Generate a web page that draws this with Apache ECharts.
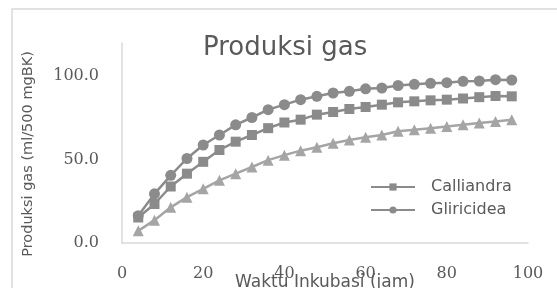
<!DOCTYPE html>
<html>
<head>
<meta charset="utf-8">
<script src="https://cdn.jsdelivr.net/npm/echarts@6/dist/echarts.min.js"></script>
<style>
html,body{margin:0;padding:0;background:#fff;}
#chart_container{width:557px;height:288px;}
</style>
</head>
<body>
<div id="chart_container"></div>
<script>
// waktu inkubasi (jam)
var hours = [4, 8, 12, 16, 20, 24, 28, 32, 36, 40, 44, 48, 52, 56, 60, 64, 68, 72, 76, 80, 84, 88, 92, 96];
// produksi gas (ml/500 mgBK)
var calliandra = [15.3, 23.4, 33.9, 41.6, 48.7, 55.8, 60.8, 64.8, 68.9, 72.3, 74.0, 77.0, 78.6, 80.4, 81.6, 83.0, 84.4, 85.0, 85.6, 86.0, 86.7, 87.5, 88.2, 88.0];
var gliricidea = [16.4, 29.5, 40.6, 50.7, 58.8, 64.8, 70.9, 75.3, 80.0, 83.0, 86.0, 88.0, 90.0, 91.0, 92.5, 93.0, 94.5, 95.2, 95.8, 96.2, 97.0, 97.2, 98.0, 97.8];
var series3 = [7.3, 13.7, 21.4, 27.5, 32.5, 37.6, 41.6, 45.6, 49.7, 52.7, 55.4, 57.4, 59.8, 61.8, 63.4, 64.8, 67.0, 67.9, 68.9, 69.9, 70.9, 72.0, 72.9, 73.9];
var xTicks = [0, 20, 40, 60, 80, 100];
var yTicks = [0, 50, 100];

function pairs(ys){
    var out = [];
    for (var i in hours) {
        out.push([hours[i], ys[i]]);
    }
    return out;
}

var chart = echarts.init(document.getElementById('chart_container'));

var option = {
    animation: false,
    backgroundColor: '#fff',
    graphic: [{
        type: 'rect',
        shape: {x: 12, y: 9, width: 600, height: 300},
        style: {fill: 'none', stroke: '#d9d9d9', lineWidth: 1.5},
        silent: true
    }],
    title: {
        text: 'Produksi gas',
        left: 198,
        top: 30,
        textStyle: {
            fontFamily: 'DejaVu Sans',
            fontSize: 26,
            fontWeight: 'normal',
            color: '#595959'
        }
    },
    legend: {
        orient: 'vertical',
        left: 365,
        top: 174,
        itemWidth: 44,
        itemHeight: 9,
        itemGap: 7,
        textStyle: {
            fontFamily: 'DejaVu Sans',
            fontSize: 16,
            color: '#595959',
            padding: [0, 0, 0, 11]
        },
        data: ['Calliandra', 'Gliricidea']
    },
    grid: {
        left: 122,
        right: 29,
        top: 43,
        bottom: 45,
        containLabel: false,
        outerBoundsMode: 'none'
    },
    xAxis: {
        type: 'value',
        min: 0,
        max: 100,
        interval: 20,
        name: 'Waktu Inkubasi (jam)',
        nameLocation: 'middle',
        nameGap: 31,
        nameMoveOverlap: false,
        nameTextStyle: {
            fontFamily: 'DejaVu Sans',
            fontSize: 17,
            color: '#595959'
        },
        axisLine: {lineStyle: {color: '#d9d9d9', width: 1.5}},
        axisTick: {show: false},
        splitLine: {show: false},
        axisLabel: {
            margin: 23,
            fontFamily: 'DejaVu Serif',
            fontSize: 16,
            color: '#595959',
            formatter: function (v) { return xTicks.indexOf(v) >= 0 ? String(v) : ''; }
        }
    },
    yAxis: {
        type: 'value',
        min: 0,
        max: 120,
        interval: 50,
        name: 'Produksi gas (ml/500 mgBK)',
        nameLocation: 'middle',
        nameGap: 86,
        nameMoveOverlap: false,
        nameTextStyle: {
            fontFamily: 'DejaVu Sans',
            fontSize: 14.5,
            color: '#595959',
            padding: [0, 22, 0, 0]
        },
        axisLine: {show: true, lineStyle: {color: '#d9d9d9', width: 1.5}},
        axisTick: {show: false},
        splitLine: {show: false},
        axisLabel: {
            margin: 23,
            showMaxLabel: false,
            fontFamily: 'DejaVu Serif',
            fontSize: 16,
            color: '#595959',
            formatter: function (v) { return yTicks.indexOf(v) >= 0 ? v.toFixed(1) : ''; }
        }
    },
    series: [
        {
            name: 'Series3',
            type: 'line',
            data: pairs(series3),
            symbol: 'triangle',
            symbolSize: 11,
            color: '#a5a5a5',
            lineStyle: {width: 2.5, color: '#a5a5a5'},
            itemStyle: {color: '#a5a5a5'}
        },
        {
            name: 'Calliandra',
            type: 'line',
            data: pairs(calliandra),
            symbol: 'rect',
            symbolSize: 10,
            color: '#8b8b8b',
            lineStyle: {width: 2.5, color: '#8b8b8b'},
            itemStyle: {color: '#8b8b8b'}
        },
        {
            name: 'Gliricidea',
            type: 'line',
            data: pairs(gliricidea),
            symbol: 'circle',
            symbolSize: 11,
            color: '#8b8b8b',
            lineStyle: {width: 2.5, color: '#8b8b8b'},
            itemStyle: {color: '#8b8b8b'}
        }
    ]
};

chart.setOption(option);
</script>
</body>
</html>
